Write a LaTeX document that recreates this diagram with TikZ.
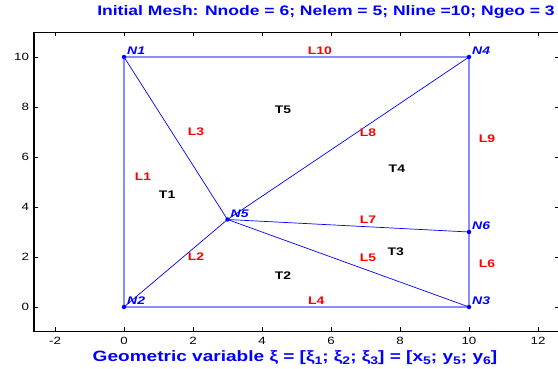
\documentclass[tikz,border=0pt]{standalone}
\usepackage{fontspec}
\setmainfont{Liberation Sans}[FakeStretch=1.27]
\definecolor{mblue}{RGB}{0,0,255}
\definecolor{lblue}{RGB}{140,140,255}
\definecolor{mred}{RGB}{255,0,0}
\newcommand{\sbx}[1]{\raisebox{-3pt}{\fontsize{11}{11}\selectfont #1}}
\begin{document}
\begin{tikzpicture}[x=1pt,y=1pt,
  inner/.style={draw=mblue,line width=0.7pt},
  outer/.style={draw=lblue,line width=1.3pt},
  dot/.style={circle,fill=mblue,inner sep=0pt,minimum size=4.5pt},
  nlab/.style={text=mblue,font=\fontsize{11}{12}\selectfont\bfseries\itshape,inner sep=0pt,anchor=south west},
  llab/.style={text=mred,font=\fontsize{11}{12}\selectfont\bfseries,inner sep=0pt},
  tlab/.style={text=black,font=\fontsize{11}{12}\selectfont\bfseries,inner sep=0pt},
  tick/.style={font=\fontsize{10.5}{12}\selectfont,inner sep=0pt},
  axline/.style={draw=black,line width=0.8pt}]
\useasboundingbox (0,0) rectangle (558,369);
\clip (0,0) rectangle (558,369);
% title
\node[text=mblue,font=\fontsize{13.8}{15}\selectfont\bfseries,inner sep=0pt] (title) at (326,357)
  {Initial Mesh: Nnode = 6; Nelem = 5; Nline =10; Ngeo = 3};
\node[text=mblue,font=\fontsize{15}{16}\selectfont\bfseries,inner sep=0pt] (xlab) at (295,11)
  {Geometric variable ξ = [ξ\sbx{1}; ξ\sbx{2}; ξ\sbx{3}] = [x\sbx{5}; y\sbx{5}; y\sbx{6}]};
\begin{scope}[shift={(124pt,62pt)},x=34.5pt,y=25pt]
  % axes box
  \coordinate (BL) at (-2.61,-0.97);
  \coordinate (TL) at (-2.61,11.0);
  \coordinate (BR) at (12.62,-0.97);
  \coordinate (TR) at (12.62,11.0);
  \draw[axline,line width=1.1pt] (TL) -- (BL) -- (BR);
  \draw[axline,line width=0.6pt] (TL) -- (TR) -- (BR);
  \foreach \x in {-2,0,...,12} {
    \draw[line width=0.5pt] (\x,-0.97) -- ++(0,4pt);
    \draw[line width=0.5pt] (\x,11.0) -- ++(0,-4pt);
    \node[tick,anchor=north] at (\x,-1.2) {\x};
  }
  \foreach \y in {0,2,...,10} {
    \draw[line width=0.5pt] (-2.61,\y) -- ++(4pt,0);
    \draw[line width=0.5pt] (12.62,\y) -- ++(-4pt,0);
    \node[tick,anchor=east] at (-2.75,\y) {\y};
  }
  % nodes
  \coordinate (N1) at (0,10);
  \coordinate (N2) at (0,0);
  \coordinate (N3) at (10,0);
  \coordinate (N4) at (10,10);
  \coordinate (N5) at (3,3.5);
  \coordinate (N6) at (10,3);
  % outer lines
  \draw[outer] (N1) -- (N2);
  \draw[outer] (N2) -- (N3);
  \draw[outer] (N3) -- (N6);
  \draw[outer] (N6) -- (N4);
  \draw[outer] (N1) -- (N4);
  % inner lines
  \draw[inner] (N2) -- (N5);
  \draw[inner] (N1) -- (N5);
  \draw[inner] (N5) -- (N3);
  \draw[inner] (N5) -- (N6);
  \draw[inner] (N5) -- (N4);
  \foreach \n in {N1,N2,N3,N4,N5,N6} {
    \node[dot] at (\n) {};
  }
  \node[nlab] at ([shift={(3pt,2pt)}]N1) {N1};
  \node[nlab] at ([shift={(3pt,2pt)}]N2) {N2};
  \node[nlab] at ([shift={(3pt,2pt)}]N3) {N3};
  \node[nlab] at ([shift={(3pt,2pt)}]N4) {N4};
  \node[nlab] at ([shift={(3pt,2pt)}]N5) {N5};
  \node[nlab] at ([shift={(3pt,2pt)}]N6) {N6};
  % line labels
  \node[llab] at (5.68,10.24) {L10};
  \node[llab] at (2.09,7.0) {L3};
  \node[llab] at (0.55,5.2) {L1};
  \node[llab] at (7.07,6.96) {L8};
  \node[llab] at (10.52,6.72) {L9};
  \node[llab] at (7.07,3.48) {L7};
  \node[llab] at (2.09,2.0) {L2};
  \node[llab] at (7.07,1.96) {L5};
  \node[llab] at (10.52,1.72) {L6};
  \node[llab] at (5.57,0.24) {L4};
  % triangle labels
  \node[tlab] at (1.25,4.48) {T1};
  \node[tlab] at (4.61,7.88) {T5};
  \node[tlab] at (7.91,5.52) {T4};
  \node[tlab] at (7.88,2.2) {T3};
  \node[tlab] at (4.61,1.24) {T2};
\end{scope}
\end{tikzpicture}
\end{document}
